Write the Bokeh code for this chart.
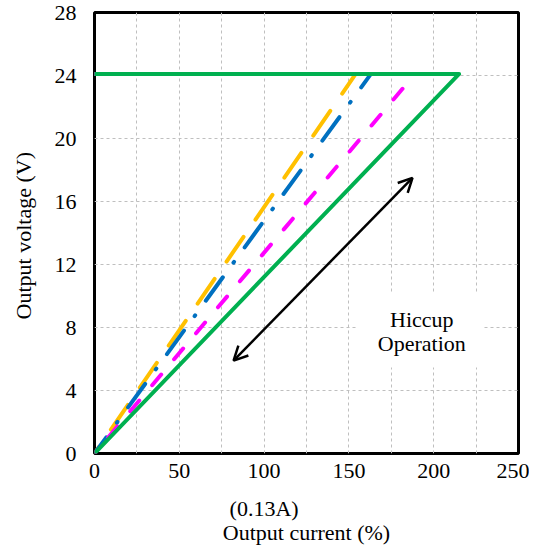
from bokeh.plotting import figure
from bokeh.models import (Range1d, SingleIntervalTicker, FixedTicker, Arrow, OpenHead, Label,
                          BoxAnnotation, LinearAxis)
from bokeh.embed import file_html
from bokeh.resources import INLINE

# Data
v_out = 24.1
series_names = ["orange", "blue", "magenta", "green"]
i_limit = [154, 163, 189, 215]          # current (%) where hiccup starts
colors = ["#FFC000", "#0070C0", "#FF00FF", "#00B050"]
dashes = ["30 21", "29 18 1 18", "14 20", "solid"]
x_ticks = [0, 50, 100, 150, 200, 250]
y_ticks = [0, 4, 8, 12, 16, 20, 24, 28]
arrow_start = (82, 5.9)
arrow_end = (187.5, 17.5)
note_lines = ["Hiccup", "Operation"]
note_x = 193
note_y = [8.5, 7.0]
note_box = (155, 229, 5.46, 10.16)  # left, right, bottom, top
rated_tick = 100
rated_label = "(0.13A)"

FONT = "Liberation Serif"

p = figure(width=529, height=547, output_backend="svg", toolbar_location=None,
           x_range=Range1d(0, 250), y_range=Range1d(0, 28),
           min_border_left=94, min_border_right=11, min_border_top=12, min_border_bottom=94)

p.outline_line_color = "black"
p.outline_line_width = 3

p.add_layout(BoxAnnotation(left=note_box[0], right=note_box[1], bottom=note_box[2], top=note_box[3],
                           fill_color="white", fill_alpha=1, line_color=None, level="underlay"))

for xm, c, d in zip(i_limit, colors, dashes):
    p.line([0, xm, 0], [v_out, v_out, 0], line_color=c, line_width=4,
           line_dash=d, line_cap="round", line_join="round")

p.xaxis.ticker = FixedTicker(ticks=x_ticks)
p.yaxis.ticker = FixedTicker(ticks=y_ticks)
p.xgrid.ticker = SingleIntervalTicker(interval=25)
p.ygrid.ticker = SingleIntervalTicker(interval=4)
for g in (p.xgrid, p.ygrid):
    g.grid_line_color = "#bfbfbf"
    g.grid_line_dash = "3 3"
    g.grid_line_width = 1

ax2 = LinearAxis(ticker=FixedTicker(ticks=[rated_tick]),
                 major_label_overrides={rated_tick: rated_label})
p.add_layout(ax2, "below")

for ax in (p.xaxis[0], ax2, p.yaxis[0]):
    ax.axis_line_color = None
    ax.major_tick_line_color = None
    ax.minor_tick_line_color = None
    ax.major_label_text_font = FONT
    ax.major_label_text_font_size = "22px"
    ax.major_label_text_color = "black"
    ax.axis_label_text_font = FONT
    ax.axis_label_text_font_size = "22px"
    ax.axis_label_text_font_style = "normal"
    ax.axis_label_text_color = "black"

ax2.axis_label = "Output current (%)"
p.yaxis.axis_label = "Output voltage  (V)"
p.xaxis[0].major_label_standoff = 4
ax2.major_label_standoff = 9
ax2.axis_label_standoff = -4
p.yaxis.major_label_standoff = 12
p.yaxis.axis_label_standoff = 16

p.add_layout(Arrow(x_start=arrow_start[0], y_start=arrow_start[1],
                   x_end=arrow_end[0], y_end=arrow_end[1],
                   line_color="black", line_width=2.5,
                   start=OpenHead(size=14, line_width=2.5, line_color="black"),
                   end=OpenHead(size=14, line_width=2.5, line_color="black")))

for t, yy in zip(note_lines, note_y):
    p.add_layout(Label(x=note_x, y=yy, text=t,
                       text_font=FONT, text_font_size="22px", text_color="black",
                       text_align="center", text_baseline="middle"))

open("out.html", "w").write(file_html(p, INLINE))
